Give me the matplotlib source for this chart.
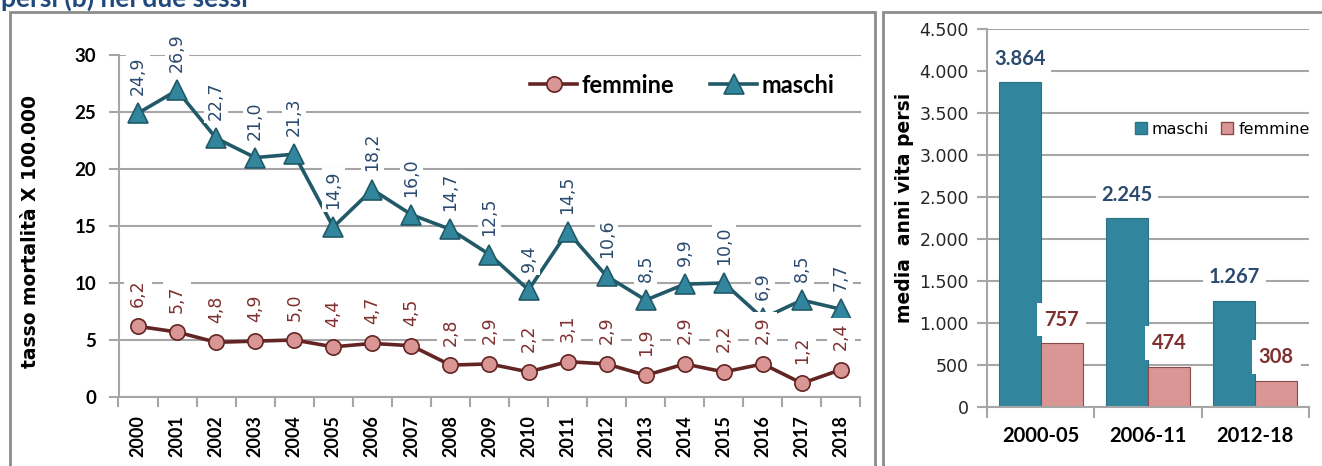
import matplotlib
matplotlib.use("Agg")
import matplotlib.pyplot as plt
from matplotlib.patches import Rectangle, Patch

# tasso di mortalità per anno
anni = [str(a) for a in range(2000, 2019)]
femmine = [6.2, 5.7, 4.8, 4.9, 5.0, 4.4, 4.7, 4.5, 2.8, 2.9,
           2.2, 3.1, 2.9, 1.9, 2.9, 2.2, 2.9, 1.2, 2.4]
maschi = [24.9, 26.9, 22.7, 21.0, 21.3, 14.9, 18.2, 16.0, 14.7, 12.5,
          9.4, 14.5, 10.6, 8.5, 9.9, 10.0, 6.9, 8.5, 7.7]

# media anni di vita persi per periodo
periodi = ["2000-05", "2006-11", "2012-18"]
anni_maschi = [3864, 2245, 1267]
anni_femmine = [757, 474, 308]

# colori
C_M_LINE = "#215968"
C_M_FILL = "#31859C"
C_F_LINE = "#632523"
C_F_FILL = "#D99694"
C_M_TXT = "#2B4A6F"
C_F_TXT = "#7F2F2F"
C_GRID = "#A6A6A6"

W, H = 1322, 466
fig = plt.figure(figsize=(W / 100, H / 100), dpi=100)


def fx(px):
    return px / W


def fy(py):
    return 1 - py / H


def it(v):
    # formato italiano: virgola decimale
    return f"{v:.1f}".replace(".", ",")


def migliaia(v):
    return f"{int(v):,}".replace(",", ".")


# cornici dei due pannelli
fig.patches.append(Rectangle((fx(10), fy(480)), fx(865), fy(12) - fy(480),
                             transform=fig.transFigure, fill=False,
                             ec="#8C8C8C", lw=2))
fig.patches.append(Rectangle((fx(883), fy(480)), fx(480), fy(12) - fy(480),
                             transform=fig.transFigure, fill=False,
                             ec="#8C8C8C", lw=2))

fig.text(fx(1), fy(7), "persi (b) nei due sessi", family="Lato",
         weight="bold", fontsize=19, color="#1F497D", va="baseline")

# ---- grafico a linee ----
ax = fig.add_axes([fx(118.5), fy(397), fx(742), fy(55) - fy(397)])
x = list(range(len(anni)))
ax.plot(x, femmine, color=C_F_LINE, lw=2.6, marker="o", ms=11,
        mfc=C_F_FILL, mec=C_F_LINE, mew=1.2, zorder=3, label="femmine")
ax.plot(x, maschi, color=C_M_LINE, lw=2.6, marker="^", ms=14,
        mfc=C_M_FILL, mec=C_M_LINE, mew=1.2, zorder=3, label="maschi")

for xi, v in zip(x, maschi):
    ax.annotate(it(v), (xi, v), xytext=(0, 13), textcoords="offset points",
                rotation=90, ha="center", va="bottom", fontsize=12.5,
                color=C_M_TXT, family="DejaVu Sans", zorder=5,
                bbox=dict(fc="white", ec="none", pad=2))
for xi, v in zip(x, femmine):
    ax.annotate(it(v), (xi, v), xytext=(0, 14), textcoords="offset points",
                rotation=90, ha="center", va="bottom", fontsize=12.5,
                color=C_F_TXT, family="DejaVu Sans", zorder=5,
                bbox=dict(fc="white", ec="none", pad=3.5))

ax.set_xlim(-0.5, len(anni) - 0.5)
ax.set_ylim(0, 30)
ax.set_yticks(range(0, 31, 5))
ax.set_xticks(x)
ax.set_xticklabels(anni, rotation=90, family="Lato", weight="bold",
                   fontsize=13)
ax.set_xticks([i - 0.5 for i in range(len(anni) + 1)], minor=True)
ax.tick_params(axis="x", which="major", length=0, pad=13)
ax.tick_params(axis="x", which="minor", length=7, color=C_GRID, width=1.5)
ax.tick_params(axis="y", length=7, color=C_GRID, width=1.5, pad=9)
for t in ax.get_yticklabels():
    t.set_family("Lato")
    t.set_weight("bold")
    t.set_fontsize(13.5)
ax.grid(axis="y", color=C_GRID, lw=1.5, zorder=0)
ax.set_axisbelow(True)
for s in ["top", "right"]:
    ax.spines[s].set_visible(False)
for s in ["left", "bottom"]:
    ax.spines[s].set_color(C_GRID)
    ax.spines[s].set_linewidth(1.5)

ax.legend(loc="center", bbox_to_anchor=(0.76, 0.912), ncol=2,
          frameon=False, handlelength=2.0, columnspacing=1.5,
          handletextpad=0.2,
          prop=dict(family="Lato", weight="bold", size=17))

fig.text(fx(31), fy(231), "tasso mortalità X 100.000", rotation=90,
         ha="center", va="center", family="DejaVu Sans", weight="bold",
         fontsize=13.5)

# ---- grafico a barre ----
bx = fig.add_axes([fx(987), fy(407), fx(322), fy(29) - fy(407)])
xb = list(range(len(periodi)))
bw = 0.39
bx.bar([i - bw / 2 for i in xb], anni_maschi, bw, color=C_M_FILL,
       ec="#2A7386", lw=0.8, zorder=2, label="maschi")
bx.bar([i + bw / 2 for i in xb], anni_femmine, bw, color=C_F_FILL,
       ec="#8B4A4A", lw=0.8, zorder=2, label="femmine")

for i, v in zip(xb, anni_maschi):
    bx.annotate(migliaia(v), (i - bw / 2, v), xytext=(0, 10),
                textcoords="offset points", ha="center", va="bottom",
                family="Lato", weight="bold", fontsize=14.5, color=C_M_TXT,
                zorder=5, bbox=dict(fc="white", ec="none", pad=4))
for i, v in zip(xb, anni_femmine):
    bx.annotate(migliaia(v), (i + bw / 2, v), xytext=(0, 10),
                textcoords="offset points", ha="center", va="bottom",
                family="Lato", weight="bold", fontsize=14.5, color=C_F_TXT,
                zorder=5, bbox=dict(fc="white", ec="none", pad=5))

bx.set_xlim(-0.5, len(periodi) - 0.5)
bx.set_ylim(0, 4500)
bx.set_yticks(range(0, 4501, 500))
bx.set_yticklabels([migliaia(v) for v in range(0, 4501, 500)],
                   family="DejaVu Sans", fontsize=12.5, color="#262626")
bx.set_xticks(xb)
bx.set_xticklabels(periodi, family="Lato", weight="bold", fontsize=14.5)
bx.set_xticks([i - 0.5 for i in range(len(periodi) + 1)], minor=True)
bx.tick_params(axis="x", which="major", length=0, pad=14)
bx.tick_params(axis="x", which="minor", length=8, color=C_GRID, width=1.5)
bx.tick_params(axis="y", length=7, color=C_GRID, width=1.5, pad=6)
bx.grid(axis="y", color=C_GRID, lw=1.5, zorder=0)
bx.set_axisbelow(True)
for s in ["top", "right"]:
    bx.spines[s].set_visible(False)
for s in ["left", "bottom"]:
    bx.spines[s].set_color(C_GRID)
    bx.spines[s].set_linewidth(1.5)

handles = [Patch(fc=C_M_FILL, ec="#2A7386"), Patch(fc=C_F_FILL, ec="#8B4A4A")]
bx.legend(handles, ["maschi", "femmine"], loc="center",
          bbox_to_anchor=(0.73, 0.735), ncol=2, frameon=False,
          handlelength=0.75, handleheight=0.75, handletextpad=0.3,
          columnspacing=0.8, prop=dict(family="DejaVu Sans", size=11.5))

fig.text(fx(905), fy(208), "media  anni vita persi", rotation=90,
         ha="center", va="center", family="DejaVu Sans", weight="bold",
         fontsize=13.5)

fig.savefig("out.png", dpi=100)
